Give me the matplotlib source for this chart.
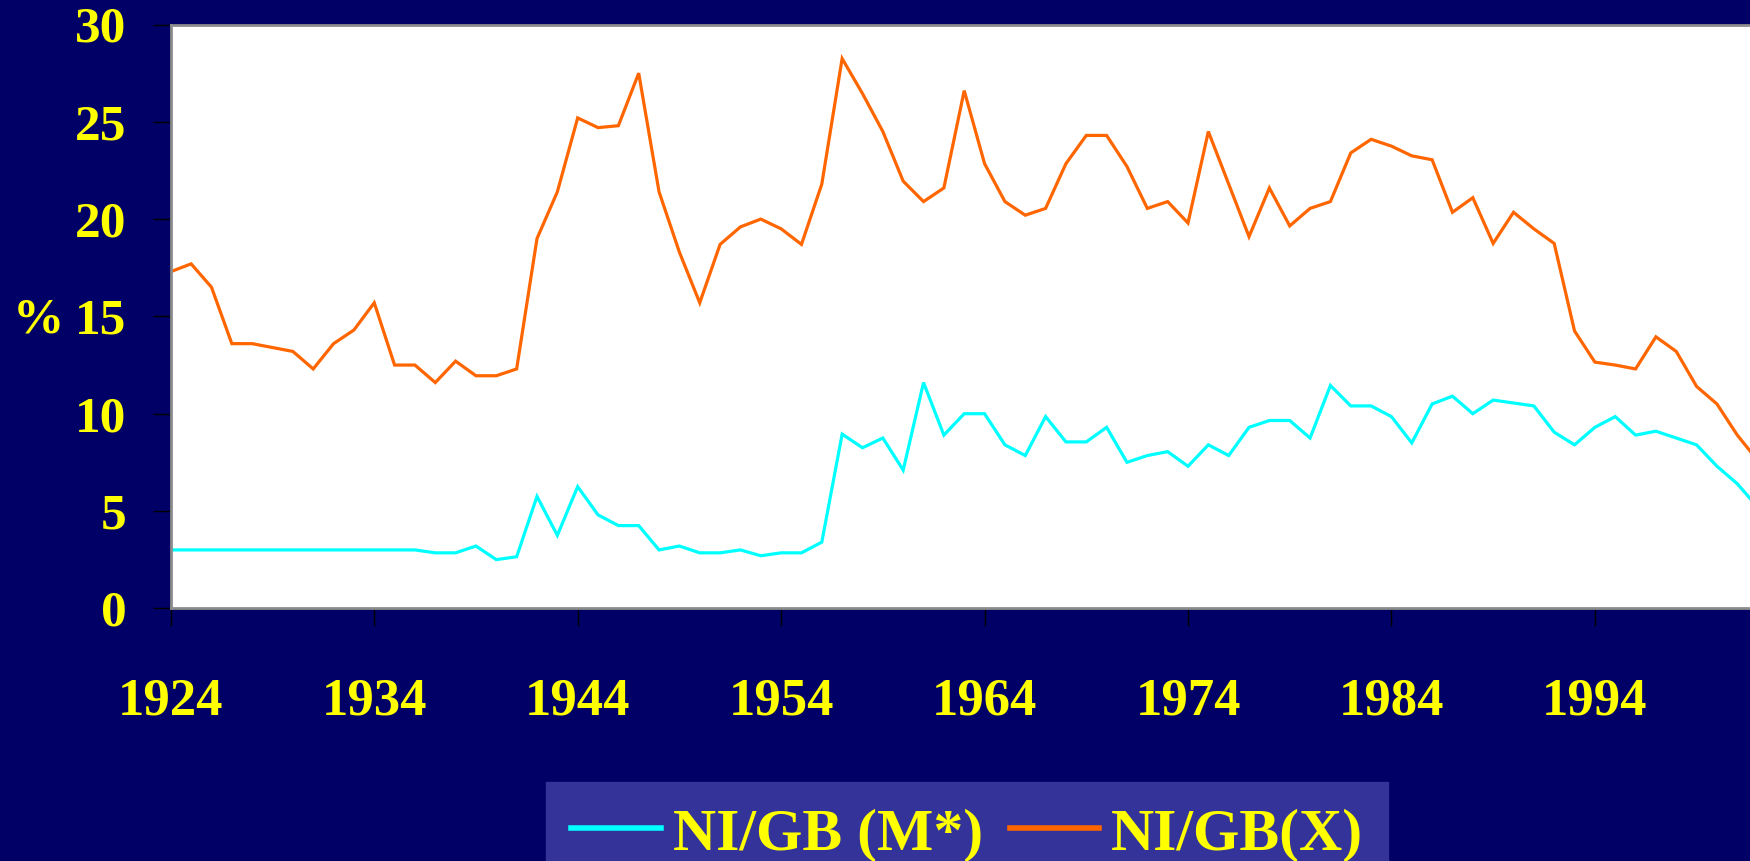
import matplotlib
matplotlib.use("Agg")
import matplotlib.pyplot as plt
import matplotlib.transforms as mtransforms

# ---------------- data ----------------
years = list(range(1924, 2003))

ni_gb_m = [3.0, 3.0, 3.0, 3.0, 3.0, 3.0, 3.0, 3.0, 3.0, 3.0,      # 1924-1933
           3.0, 3.0, 3.0, 2.85, 2.85, 3.2, 2.5, 2.65, 5.75, 3.75,  # 1934-1943
           6.25, 4.8, 4.25, 4.25, 3.0, 3.2, 2.85, 2.85, 3.0, 2.7,  # 1944-1953
           2.85, 2.85, 3.4, 8.95, 8.25, 8.75, 7.1, 11.6, 8.9, 10.0,  # 1954-1963
           10.0, 8.4, 7.85, 9.85, 8.55, 8.55, 9.3, 7.5, 7.85, 8.05,  # 1964-1973
           7.3, 8.4, 7.85, 9.3, 9.65, 9.65, 8.75, 11.45, 10.4, 10.4,  # 1974-1983
           9.85, 8.5, 10.5, 10.9, 10.0, 10.7, 10.55, 10.4, 9.05, 8.4,  # 1984-1993
           9.3, 9.85, 8.9, 9.1, 8.75, 8.4, 7.3, 6.4, 5.2]            # 1994-2002

ni_gb_x = [17.3, 17.7, 16.5, 13.6, 13.6, 13.4, 13.2, 12.3, 13.6, 14.3,   # 1924-1933
           15.7, 12.5, 12.5, 11.6, 12.7, 11.95, 11.95, 12.3, 19.0, 21.4,  # 1934-1943
           25.2, 24.7, 24.8, 27.5, 21.4, 18.3, 15.7, 18.7, 19.6, 20.0,   # 1944-1953
           19.5, 18.7, 21.8, 28.25, 26.45, 24.5, 21.95, 20.9, 21.6, 26.6,  # 1954-1963
           22.85, 20.9, 20.2, 20.55, 22.85, 24.3, 24.3, 22.7, 20.55, 20.9,  # 1964-1973
           19.8, 24.5, 21.8, 19.1, 21.6, 19.65, 20.55, 20.9, 23.4, 24.1,   # 1974-1983
           23.75, 23.25, 23.05, 20.35, 21.1, 18.75, 20.35, 19.5, 18.75, 14.25,  # 1984-1993
           12.65, 12.5, 12.3, 13.95, 13.2, 11.4, 10.5, 8.9, 7.6]            # 1994-2002

series_labels = ["NI/GB (M*)", "NI/GB(X)"]
x_ticks = list(range(1924, 1995, 10))
y_ticks = [0, 5, 10, 15, 20, 25, 30]

# ---------------- style ----------------
BG = "#000066"
YELLOW = "#FFFF00"
CYAN = "#00FFFF"
ORANGE = "#FF6600"
LEGEND_BG = "#333399"

plt.rcParams['font.family'] = ['Liberation Serif', 'DejaVu Serif']
plt.rcParams['font.weight'] = 'bold'

W, H = 1750, 861
fig = plt.figure(figsize=(W / 100, H / 100), dpi=100, facecolor=BG)

left_px, bottom_px, top_px = 170.8, 608.3, 24.5
ax = fig.add_axes([left_px / W, 1 - bottom_px / H, 1 - left_px / W, (bottom_px - top_px) / H])
ax.set_facecolor("white")

l1, = ax.plot(years, ni_gb_m, color=CYAN, lw=2.3, label=series_labels[0], solid_joinstyle='miter')
l2, = ax.plot(years, ni_gb_x, color=ORANGE, lw=2.3, label=series_labels[1], solid_joinstyle='miter')

px_per_year = 20.344
ax.set_xlim(1924, 1924 + (W - left_px) / px_per_year)
ax.set_ylim(0, 30)

ax.set_xticks(x_ticks)
ax.set_xticklabels([str(t) for t in x_ticks])
ax.set_yticks(y_ticks)
ax.set_yticklabels([str(t) for t in y_ticks])

ax.tick_params(axis='both', direction='out', length=13, width=1, color='black',
               labelcolor=YELLOW, labelsize=37)
ax.tick_params(axis='x', pad=37, labelsize=38)
ax.tick_params(axis='y', pad=19)
for lab in ax.get_xticklabels() + ax.get_yticklabels():
    lab.set_fontweight('bold')

for side in ['left', 'top', 'bottom']:
    ax.spines[side].set_color('#8c8c8c')
    ax.spines[side].set_linewidth(2)
ax.spines['right'].set_visible(False)

# "%" axis label at the level of 15
trans = mtransforms.blended_transform_factory(fig.transFigure, ax.transData)
fig.text(38 / W, 14.8, "%", transform=trans, ha='center', va='center',
         color=YELLOW, fontsize=37, fontweight='bold')

leg = fig.legend(handles=[l1, l2], labels=series_labels, loc='upper left',
                 bbox_to_anchor=(546 / W, 1 - 782 / H), ncol=2,
                 fontsize=43, frameon=True, fancybox=False, shadow=False,
                 borderpad=0.42, handlelength=1.5, handletextpad=0.2,
                 columnspacing=0.45, borderaxespad=0)
frame = leg.get_frame()
frame.set_facecolor(LEGEND_BG)
frame.set_edgecolor(LEGEND_BG)
frame.set_alpha(1)
for t in leg.get_texts():
    t.set_color(YELLOW)
    t.set_fontweight('bold')
for h in leg.get_lines():
    h.set_linewidth(4)

fig.savefig("out.png", dpi=100, facecolor=BG)
